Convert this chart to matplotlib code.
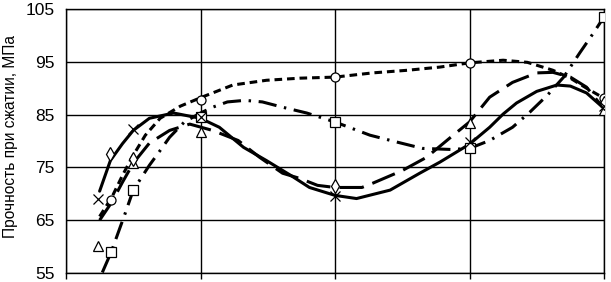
import matplotlib
matplotlib.use('Agg')
import matplotlib.pyplot as plt

# Trend lines
solid_x = [0.25, 0.33, 0.42, 0.50, 0.62, 0.80, 1.0, 1.14, 1.32, 1.49, 1.67, 1.81,
           2.0, 2.16, 2.41, 2.63, 2.78, 3.0, 3.15, 3.25, 3.35, 3.50, 3.65, 3.75, 3.87, 3.99]
solid_y = [70.5, 76.3, 79.5, 82.0, 84.3, 85.3, 84.3, 82.6, 78.8, 76.3, 73.5, 71.2,
           69.7, 69.1, 70.7, 73.9, 76.0, 79.4, 82.6, 85.1, 87.2, 89.4, 90.6, 90.4, 89.1, 86.4]

sdash_x = [0.25, 0.34, 0.42, 0.50, 0.59, 0.70, 0.85, 1.01, 1.24, 1.49, 1.74, 2.0,
           2.28, 2.54, 2.78, 3.0, 3.25, 3.43, 3.62, 3.75, 3.87, 4.0]
sdash_y = [65.7, 69.3, 73.5, 77.3, 81.1, 84.3, 86.6, 88.3, 90.6, 91.5, 91.9, 92.1,
           92.9, 93.4, 94.0, 94.8, 95.3, 94.9, 93.4, 91.9, 90.0, 88.1]

ldash_x = [0.25, 0.34, 0.42, 0.50, 0.62, 0.77, 0.92, 1.09, 1.28, 1.44, 1.61, 1.74,
           1.87, 2.0, 2.2, 2.28, 2.5, 2.68, 2.86, 3.0, 3.15, 3.32, 3.50, 3.62, 3.75, 3.87, 3.99]
ldash_y = [65.0, 68.4, 72.2, 75.8, 79.6, 82.0, 83.2, 82.0, 80.1, 76.9, 73.9, 72.9,
           71.6, 71.2, 71.2, 72.0, 74.4, 76.9, 80.7, 83.6, 88.3, 91.1, 92.9, 93.0, 92.1, 90.2, 86.4]

ddot_x = [0.27, 0.335, 0.44, 0.50, 0.62, 0.70, 0.77, 0.88, 1.0, 1.09, 1.20, 1.33,
          1.46, 1.61, 1.79, 2.0, 2.26, 2.46, 2.65, 2.86, 3.0, 3.15, 3.32, 3.45,
          3.58, 3.70, 3.82, 3.92, 4.0]
ddot_y = [55.1, 58.9, 66.3, 70.7, 75.4, 78.2, 80.7, 83.6, 85.3, 86.4, 87.4, 87.7,
          87.4, 86.4, 85.3, 83.6, 81.1, 79.8, 78.6, 78.4, 78.6, 80.1, 82.6, 85.5,
          88.7, 92.1, 96.7, 100.4, 103.5]

# Measured points
circ_x = [0.335, 1.0, 2.0, 3.0, 4.0]
circ_y = [68.8, 87.7, 92.1, 94.8, 88.1]
sq_x = [0.335, 0.50, 1.0, 2.0, 3.0, 4.0]
sq_y = [58.9, 70.7, 84.6, 83.6, 78.6, 103.5]
tri_x = [0.24, 0.50, 1.0, 3.0, 4.0]
tri_y = [60.2, 75.8, 81.7, 83.4, 85.8]
cross_x = [0.24, 0.50, 1.0, 2.0, 3.0, 4.0]
cross_y = [69.1, 82.2, 84.5, 69.5, 79.8, 86.6]
diam_x = [0.33, 0.50, 2.0, 4.0]
diam_y = [77.5, 76.5, 71.4, 87.2]

yticks = [55, 65, 75, 85, 95, 105]

plt.rcParams['font.family'] = ['Liberation Sans', 'DejaVu Sans']

fig = plt.figure(figsize=(6.11, 2.82), dpi=100)
ax = fig.add_axes([66 / 611, 1 - 273 / 282, 538 / 611, 264 / 282])

lw = 2.2
ax.plot(solid_x, solid_y, color='black', lw=lw, solid_capstyle='round')
ax.plot(sdash_x, sdash_y, color='black', lw=lw, dashes=(2.5, 1.6))
ax.plot(ldash_x, ldash_y, color='black', lw=lw, dashes=(8, 3))
ax.plot(ddot_x, ddot_y, color='black', lw=lw, dashes=(6, 2.5, 0.8, 2.5))

mk = dict(color='black', linestyle='none', markerfacecolor='white',
          markeredgewidth=0.9, zorder=5)
ax.plot(circ_x, circ_y, marker='o', markersize=6.5, **mk)
ax.plot(sq_x, sq_y, marker='s', markersize=6.5, **mk)
ax.plot(tri_x, tri_y, marker='^', markersize=6.5, **mk)
ax.plot(diam_x, diam_y, marker='d', markersize=7, **mk)
ax.plot(cross_x, cross_y, marker='x', markersize=7, color='black',
        linestyle='none', markeredgewidth=0.9, zorder=6)

ax.set_xlim(0, 4)
ax.set_ylim(55, 105)
ax.set_xticks([0, 1, 2, 3, 4])
ax.set_xticklabels([])
ax.set_yticks(yticks)
ax.set_yticklabels([str(t) for t in yticks], fontsize=12.5)
ax.tick_params(axis='x', direction='out', length=4, width=1, color='black')
ax.tick_params(axis='y', length=0, pad=8)
ax.grid(True, color='black', lw=1)
for s in ax.spines.values():
    s.set_color('black')
    s.set_linewidth(1)

ax.set_ylabel('Прочность при сжатии, МПа', fontsize=11.2)
ax.yaxis.set_label_coords(-0.090, 0.517)

fig.savefig('out.png', dpi=100)
